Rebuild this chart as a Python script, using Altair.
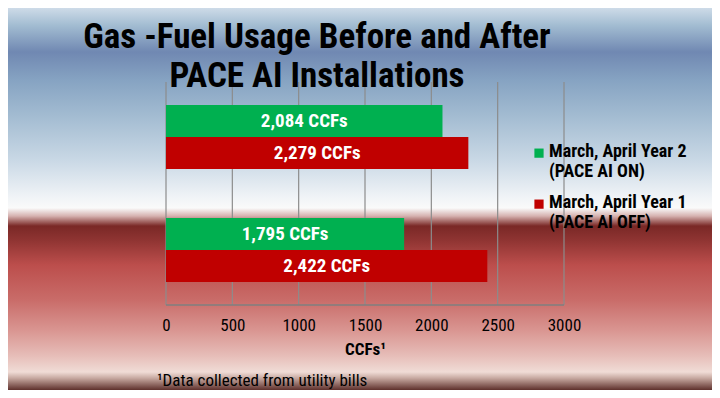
import altair as alt
import pandas as pd

# ---- data ----
groups = ["Group 1", "Group 2"]
series = ["March, April Year 2|(PACE AI ON)", "March, April Year 1|(PACE AI OFF)"]
year2_on = [2084, 1795]
year1_off = [2279, 2422]
colors = ["#00b050", "#c00000"]
x_ticks = [0, 500, 1000, 1500, 2000, 2500, 3000]
title_lines = ["Gas -Fuel Usage Before and After", "PACE AI Installations"]
footnote = ["\u00b9Data collected from utility bills"]

rows = []
for g, a, b in zip(groups, year2_on, year1_off):
    rows.append({"group": g, "series": series[0], "value": a})
    rows.append({"group": g, "series": series[1], "value": b})
df = pd.DataFrame(rows)
grid_df = pd.DataFrame({"value": x_ticks})

# ---- layout ----
W, H = 398, 223
PL, PT = 158, 74
PR = 704 - PL - W
PB = 382 - PT - H
FONT = "Liberation Sans Narrow, Arial Narrow, Roboto Condensed, Liberation Sans, sans-serif"

def stop(y, c):
    return alt.GradientStop(offset=max(0.0, min(1.0, (y - 8) / 382.0)), color=c)

stops = [
    stop(8, "#cedbe8"), stop(25, "#a3bdd2"), stop(52, "#7088b2"), stop(80, "#86a3c2"),
    stop(115, "#a2bbd1"), stop(160, "#c9d8e5"), stop(195, "#eef2f6"), stop(208, "#fafafa"),
    stop(216, "#d6b2b0"), stop(226, "#7a2826"), stop(240, "#8f3432"), stop(265, "#bc4e4c"),
    stop(300, "#c96c69"), stop(330, "#d99591"), stop(355, "#e6bcb7"), stop(372, "#f0dcd6"),
    stop(378, "#c8aaa2"), stop(390, "#5e302c"),
]

bg = alt.Chart(pd.DataFrame({"a": [0]})).mark_rect(
    fill=alt.Gradient(gradient="linear", x1=0, y1=0, x2=0, y2=1, stops=stops)
).encode(
    x=alt.value(-PL), x2=alt.value(W + PR), y=alt.value(-PT), y2=alt.value(H + PB)
)

x_scale = alt.Scale(domain=[0, 3000], nice=False)
x_axis = alt.Axis(values=x_ticks, grid=False, domain=False,
                  ticks=False, zindex=1, format="d", labelFlush=False,
                  labelFontSize=17, labelColor="black", labelPadding=12,
                  labelFont=FONT, title="CCFs\u00b9", titleFont=FONT,
                  titleFontSize=17, titleFontWeight="bold", titleColor="black",
                  titlePadding=8)

grid = alt.Chart(grid_df).mark_rule(color="#8c8c8c", strokeWidth=1.2).encode(
    x=alt.X("value:Q", scale=x_scale, axis=x_axis),
    y=alt.value(0), y2=alt.value(H),
)

# bottom frame line of the plot, spanning the full x domain
base_df = pd.DataFrame({"x0": [x_ticks[0]], "x1": [x_ticks[-1]]})
baseline = alt.Chart(base_df).mark_rule(color="#7f7f7f", strokeWidth=1.5).encode(
    x=alt.X("x0:Q", scale=x_scale, axis=x_axis), x2="x1:Q", y=alt.value(H)
)

y_enc = alt.Y("group:N", sort=groups, axis=None,
              scale=alt.Scale(paddingInner=0.434, paddingOuter=0.204))
yoff = alt.YOffset("series:N", sort=series, scale=alt.Scale(paddingInner=0, paddingOuter=0))

bars = alt.Chart(df).mark_bar().encode(
    x=alt.X("value:Q", scale=x_scale, axis=x_axis),
    y=y_enc,
    yOffset=yoff,
    color=alt.Color("series:N", sort=series,
                    scale=alt.Scale(domain=series, range=colors),
                    legend=alt.Legend(orient="none", legendX=364, legendY=52, title=None,
                                      symbolType="M-1,1.2H1V3.2H-1Z", symbolSize=85,
                                      symbolStrokeWidth=0,
                                      labelExpr="split(datum.label, '|')",
                                      labelFont=FONT, labelFontSize=18, labelFontWeight="bold",
                                      labelColor="black", labelLimit=250, labelBaseline="top",
                                      rowPadding=4, padding=0, labelOffset=1)),
)

labels = alt.Chart(df).transform_calculate(
    mid="datum.value / 2",
    txt="format(datum.value, ',') + ' CCFs'",
).mark_text(color="white", fontWeight="bold", fontSize=19, font=FONT).encode(
    x=alt.X("mid:Q", scale=x_scale, axis=x_axis),
    y=y_enc,
    yOffset=yoff,
    text="txt:N",
)

foot = alt.Chart(pd.DataFrame({"t": footnote})).mark_text(
    align="left", baseline="alphabetic", fontSize=17, font=FONT, color="black"
).encode(x=alt.value(-9), y=alt.value(304), text="t:N")

chart = alt.layer(bg, grid, baseline, bars, labels, foot).properties(
    width=W, height=H,
    padding={"left": PL, "top": PT, "right": PR, "bottom": PB},
    autosize=alt.AutoSizeParams(type="none"),
    title=alt.TitleParams(text=title_lines, font=FONT, fontSize=35, fontWeight="bold",
                          color="black", lineHeight=39, anchor="middle", dx=-48, dy=86,
                          offset=0),
).configure_view(strokeWidth=0).configure(background="white")

chart.save("out.html", embed_options={"renderer": "svg", "actions": False})
